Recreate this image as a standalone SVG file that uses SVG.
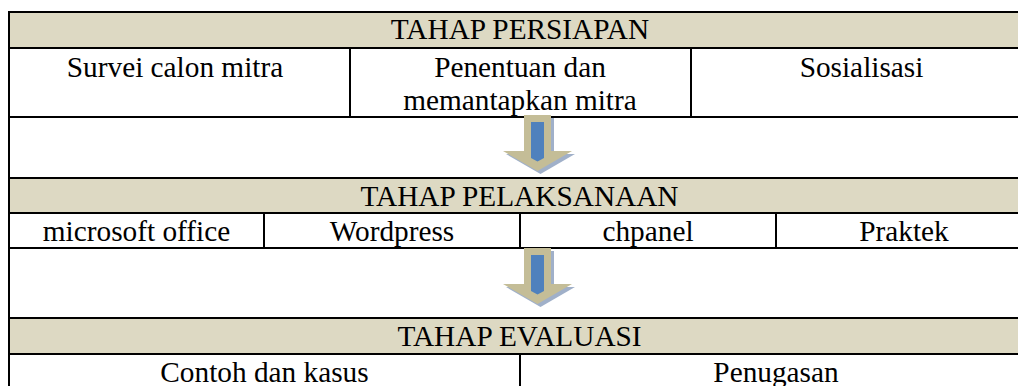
<svg xmlns="http://www.w3.org/2000/svg" width="1018" height="386" viewBox="0 0 1018 386">
<style>
.band{fill:#DDD9C3}
.ln{stroke:#000;stroke-width:2;fill:none}
.t{font-family:"Liberation Serif","Times New Roman",serif;font-size:29.3px;fill:#000;text-anchor:middle}
.tan{fill:#C4BD97}
.blue{fill:#4F81BD}
.shd{fill:#8FA2C0;opacity:0.85}
</style>
<defs>
<g id="arrow">
<path class="shd" d="M527 3 H554 V39 H575 L540.5 59 L506 39 H527 Z"/>
<path class="tan" d="M524 0 H551 V36 H572 L537.5 56 L503 36 H524 Z"/>
<path class="blue" d="M531 7 H544 V43 L537.5 46.5 L531 43 Z"/>
</g>
</defs>
<rect x="0" y="0" width="1018" height="386" fill="#fff"/>
<g id="bands">
<rect class="band" x="9" y="12" width="1009" height="36"/>
<rect class="band" x="9" y="178" width="1009" height="35"/>
<rect class="band" x="9" y="318" width="1009" height="36"/>
</g>
<g id="grid">
<path class="ln" d="M9 12 H1018 M9 48 H1018 M9 117 H1018 M9 178 H1018 M9 213 H1018 M9 248 H1018 M9 318 H1018 M9 354 H1018"/>
<path class="ln" d="M9 11 V386 M350 48 V117 M691 48 V117 M264 213 V248 M520 213 V248 M776 213 V248 M520 354 V386"/>
</g>
<g id="tahap-persiapan"><text class="t" x="520" y="39">TAHAP PERSIAPAN</text></g>
<g id="survei"><text class="t" x="175" y="77">Survei calon mitra</text></g>
<g id="penentuan"><text class="t" x="520" y="77">Penentuan dan</text><text class="t" x="520" y="110">memantapkan mitra</text></g>
<g id="sosialisasi"><text class="t" x="861.5" y="77">Sosialisasi</text></g>
<g id="tahap-pelaksanaan"><text class="t" x="519.5" y="206">TAHAP PELAKSANAAN</text></g>
<g id="msoffice"><text class="t" x="136.5" y="241">microsoft office</text></g>
<g id="wordpress"><text class="t" x="392" y="241">Wordpress</text></g>
<g id="chpanel"><text class="t" x="648" y="241">chpanel</text></g>
<g id="praktek"><text class="t" x="904" y="241">Praktek</text></g>
<g id="tahap-evaluasi"><text class="t" x="519.5" y="346">TAHAP EVALUASI</text></g>
<g id="contoh"><text class="t" x="264.5" y="382">Contoh dan kasus</text></g>
<g id="penugasan"><text class="t" x="776" y="382">Penugasan</text></g>
<g id="connectors">
<use href="#arrow" x="0" y="115"/>
<use href="#arrow" x="0" y="248"/>
</g>
</svg>
